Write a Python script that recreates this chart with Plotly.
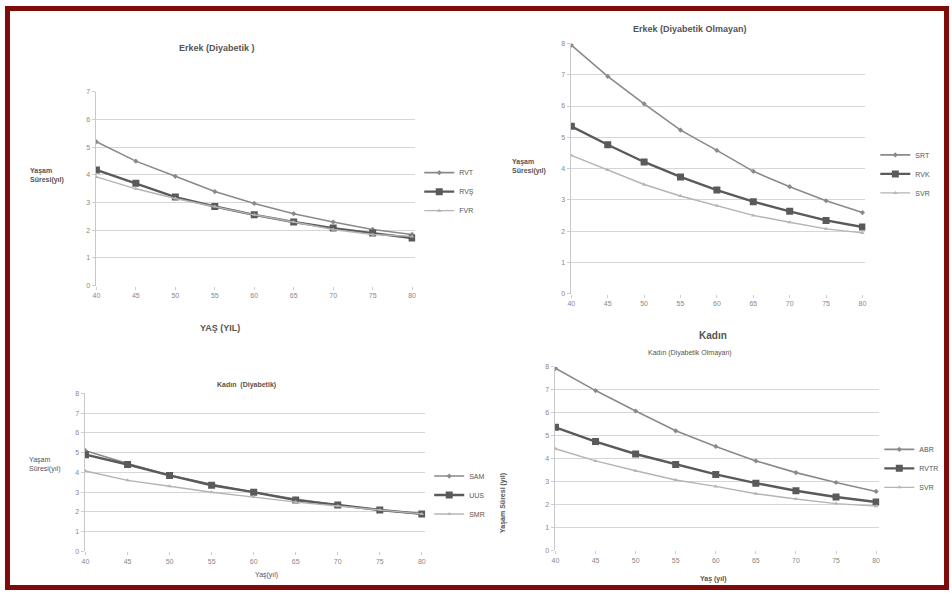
import plotly.graph_objects as go

# ---------------- data ----------------
ages = ["40", "45", "50", "55", "60", "65", "70", "75", "80"]

# Panel 1: Erkek (Diyabetik)
p1_names = ["RVT", "RVŞ", "FVR"]
p1_s1 = [5.2, 4.5, 3.95, 3.4, 2.97, 2.6, 2.3, 2.03, 1.85]
p1_s2 = [4.18, 3.7, 3.2, 2.86, 2.56, 2.3, 2.08, 1.9, 1.72]
p1_s3 = [3.93, 3.5, 3.15, 2.86, 2.56, 2.3, 2.03, 1.85, 1.78]

# Panel 2: Erkek (Diyabetik Olmayan)
p2_names = ["SRT", "RVK", "SVR"]
p2_s1 = [7.95, 6.95, 6.07, 5.23, 4.58, 3.91, 3.42, 2.97, 2.59]
p2_s2 = [5.35, 4.76, 4.21, 3.73, 3.31, 2.94, 2.63, 2.34, 2.13]
p2_s3 = [4.42, 3.95, 3.49, 3.12, 2.81, 2.5, 2.28, 2.07, 1.94]

# Panel 3: Kadın (Diyabetik)
p3_names = ["SAM", "UUS", "SMR"]
p3_s1 = [5.1, 4.45, 3.85, 3.4, 3.0, 2.65, 2.35, 2.1, 1.9]
p3_s2 = [4.9, 4.4, 3.85, 3.35, 3.0, 2.6, 2.35, 2.1, 1.9]
p3_s3 = [4.07, 3.6, 3.3, 3.0, 2.75, 2.5, 2.3, 2.1, 1.9]

# Panel 4: Kadın (Diyabetik Olmayan)
p4_names = ["ABR", "RVTR", "SVR"]
p4_s1 = [7.93, 6.96, 6.07, 5.21, 4.53, 3.9, 3.39, 2.96, 2.57]
p4_s2 = [5.36, 4.74, 4.2, 3.74, 3.31, 2.93, 2.6, 2.33, 2.11]
p4_s3 = [4.43, 3.9, 3.47, 3.07, 2.79, 2.47, 2.24, 2.04, 1.93]

W, H = 952, 595
def px(x):
    return x / W
def py(y):
    return 1 - y / H

FONT = "Liberation Sans"
C1, C2, C3 = "#8a8a8a", "#5a5a5a", "#b4b4b4"

fig = go.Figure()

panels = [
    (p1_names, (p1_s1, p1_s2, p1_s3), "", "legend"),
    (p2_names, (p2_s1, p2_s2, p2_s3), "2", "legend2"),
    (p3_names, (p3_s1, p3_s2, p3_s3), "3", "legend3"),
    (p4_names, (p4_s1, p4_s2, p4_s3), "4", "legend4"),
]
styles = [
    dict(color=C1, width=1.6, symbol="diamond", msize=4),
    dict(color=C2, width=2.4, symbol="square", msize=7),
    dict(color=C3, width=1.4, symbol="triangle-up", msize=4),
]
for names, series, sfx, leg in panels:
    for name, vals, st in zip(names, series, styles):
        fig.add_trace(go.Scatter(
            x=ages, y=vals, name=name, mode="lines+markers",
            line=dict(color=st["color"], width=st["width"]),
            marker=dict(color=st["color"], size=st["msize"], symbol=st["symbol"]),
            xaxis="x" + sfx, yaxis="y" + sfx, legend=leg,
        ))

def xax(dom, anchor):
    return dict(domain=dom, anchor=anchor, type="category", range=[-0.02, 8.08],
                showgrid=False, showline=False, ticks="outside", ticklen=3,
                tickcolor="#cccccc", tickfont=dict(size=7, color="#888888", family=FONT),
                zeroline=False, fixedrange=True)

def yax(dom, anchor, rng, dtick=1):
    return dict(domain=dom, anchor=anchor, range=rng, dtick=dtick,
                showgrid=True, gridcolor="#d6d6d6", gridwidth=1,
                showline=True, linecolor="#c8c8c8", linewidth=1,
                ticks="outside", ticklen=3, tickcolor="#cccccc",
                tickfont=dict(size=7, color="#888888", family=FONT),
                zeroline=False, fixedrange=True)

leg_common = dict(bgcolor="rgba(0,0,0,0)", font=dict(size=7, color="#555555", family=FONT),
                  itemwidth=30, xanchor="left", yanchor="top")

fig.update_layout(
    width=W, height=H, margin=dict(l=0, r=0, t=0, b=0),
    paper_bgcolor="white", plot_bgcolor="white",
    font=dict(family=FONT),
    xaxis=xax([px(93), px(414)], "y"),
    yaxis=yax([py(285), py(89)], "x", [0, 7]),
    xaxis2=xax([px(570), px(866)], "y2"),
    yaxis2=yax([py(293), py(40)], "x2", [0, 8]),
    xaxis3=xax([px(82), px(424)], "y3"),
    yaxis3=yax([py(554), py(394)], "x3", [0, 8]),
    xaxis4=xax([px(554), px(880)], "y4"),
    yaxis4=yax([py(553), py(367)], "x4", [0, 8]),
    legend=dict(x=px(418), y=py(156), **leg_common),
    legend2=dict(x=px(876), y=py(138), **leg_common),
    legend3=dict(x=px(428), y=py(463), **leg_common),
    legend4=dict(x=px(880), y=py(436), **leg_common),
)

def ann(text, x, y, size=8, color="#555555", bold=False, angle=0):
    if bold:
        text = "<b>" + text + "</b>"
    fig.add_annotation(text=text, x=px(x), y=py(y), xref="paper", yref="paper",
                       xanchor="center", yanchor="middle",
                       showarrow=False, textangle=angle, align="left",
                       font=dict(size=size, color=color, family=FONT))

# titles
ann("Erkek (Diyabetik )", 215, 45, size=9, bold=True)
ann("Erkek (Diyabetik Olmayan)", 690, 25, size=9, bold=True)
ann("YAŞ (YIL)", 218, 328, size=9, bold=True)
ann("Kadın  (Diyabetik)", 245, 386, size=7, bold=True)
ann("Kadın", 713, 335, size=10, bold=True)
ann("Kadın (Diyabetik Olmayan)", 690, 353, size=7)

# axis titles
ann("Yaşam<br>Süresi(yıl)", 44, 174, size=7, bold=True)
ann("Yaşam<br>Süresi(yıl)", 528, 164, size=7, bold=True)
ann("Yaşam<br>Süresi(yıl)", 42, 466, size=7)
ann("Yaşam Süresi (yıl)", 502, 505, size=7, bold=True, angle=-90)
ann("Yaş(yıl)", 265, 578, size=7)
ann("Yaş (yıl)", 713, 582, size=7, bold=True)

# dark red frame
fig.add_shape(type="rect", xref="paper", yref="paper",
              x0=px(4.5), x1=px(947.5), y0=py(590.5), y1=py(4.5),
              line=dict(color="#7f0a0a", width=5), fillcolor="rgba(0,0,0,0)")

fig.write_html("out.html", config={"displayModeBar": False},
               post_script="document.body.style.margin='0';")
